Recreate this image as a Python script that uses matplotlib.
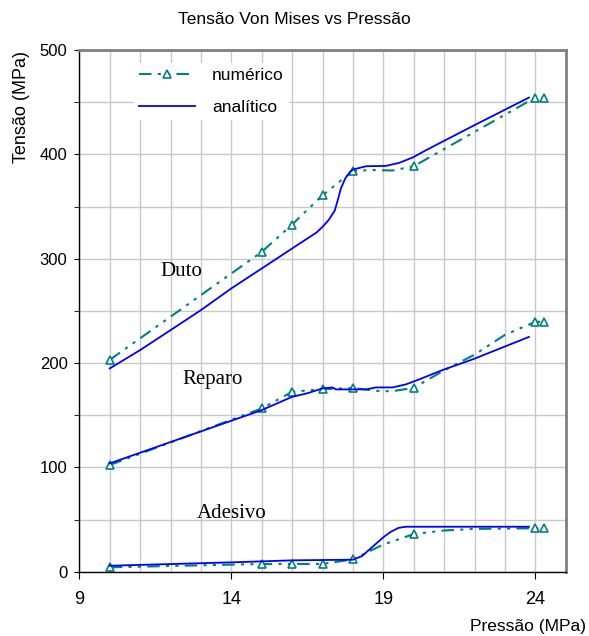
import matplotlib
matplotlib.use("Agg")
import matplotlib.pyplot as plt
from matplotlib.ticker import MultipleLocator

# Duto
duto_num_x = [10, 15, 16, 17, 18, 18.6, 19.3, 20, 24, 24.3]
duto_num_y = [203, 306.5, 332.7, 360.8, 384, 385, 384.5, 388.6, 454.4, 454.4]
duto_num_marks = [0, 1, 2, 3, 4, 7, 8, 9]
duto_ana_x = [10, 11, 12, 13, 14, 15, 16, 16.5, 16.8, 17, 17.2, 17.4, 17.5, 17.6, 17.75, 17.9, 18,
              18.43, 19.08, 19.52, 19.96, 20.4, 22, 23.79]
duto_ana_y = [194.8, 212.4, 231.5, 250.7, 271.5, 290.6, 309.8, 319.3, 325, 330.5, 337, 346, 356, 367, 377, 383, 385.4,
              388.6, 388.9, 391.8, 396.9, 403.9, 428, 454.4]

# Reparo
reparo_num_x = [10, 15, 16, 17, 18, 18.9, 19.3, 20, 21, 22, 23, 24, 24.3]
reparo_num_y = [102.2, 156.5, 172.4, 175, 176, 173, 173, 176.2, 193, 208, 227, 239.5, 239.5]
reparo_num_marks = [0, 1, 2, 3, 4, 7, 11, 12]
reparo_ana_x = [10, 15, 16, 16.5, 17, 17.33, 17.44, 18.43, 18.76, 19.3, 19.74, 20.18, 20.94, 21.93, 23.79]
reparo_ana_y = [103.8, 154.9, 167.6, 171, 175.7, 176.6, 174.7, 174.7, 176.6, 176.6, 179.5, 184.3, 193.2, 203.4, 225]

# Adesivo
ades_num_x = [10, 15, 16, 17, 18, 19, 20, 21, 22, 24, 24.3]
ades_num_y = [4.2, 7.4, 7.4, 7.4, 11.9, 26, 36.1, 39.5, 41, 41.6, 41.6]
ades_num_marks = [0, 1, 2, 3, 4, 6, 9, 10]
ades_ana_x = [10, 12.08, 14.05, 16.02, 18, 18.3, 18.65, 19, 19.25, 19.5, 19.74, 23.79]
ades_ana_y = [5.7, 7.4, 9, 10.9, 11.5, 15, 24, 33, 38.3, 42, 43.1, 43.1]

labels = ["Duto", "Reparo", "Adesivo"]
label_pos = [(11.65, 288), (12.4, 184.6), (12.87, 56.2)]

teal = "#008080"
blue = "#0000FF"
num_style = dict(color=teal, lw=1.5, ls=(0, (6, 3, 1.5, 3, 1.5, 3)), marker="^",
                 markersize=6, markerfacecolor="white", markeredgecolor=teal, markeredgewidth=1.2)
ana_style = dict(color=blue, lw=1.3)

plt.rcParams['font.family'] = ['Liberation Sans', 'DejaVu Sans']

fig = plt.figure(figsize=(5.89, 6.36), dpi=100)
ax = fig.add_axes([0.1347, 0.1011, 0.8258, 0.8203])

ax.plot(duto_num_x, duto_num_y, markevery=duto_num_marks, label="numérico", **num_style)
ax.plot(duto_ana_x, duto_ana_y, label="analítico", **ana_style)
ax.plot(reparo_num_x, reparo_num_y, markevery=reparo_num_marks, **num_style)
ax.plot(reparo_ana_x, reparo_ana_y, **ana_style)
ax.plot(ades_num_x, ades_num_y, markevery=ades_num_marks, **num_style)
ax.plot(ades_ana_x, ades_ana_y, **ana_style)

for lab, (lx, ly) in zip(labels, label_pos):
    ax.text(lx, ly, lab, family="Liberation Serif", fontsize=15, va="center", ha="left")

ax.set_xlim(9, 25)
ax.set_ylim(0, 500)
ax.xaxis.set_minor_locator(MultipleLocator(1))
ax.yaxis.set_major_locator(MultipleLocator(100))
ax.yaxis.set_minor_locator(MultipleLocator(50))
ax.set_xticks([9, 14, 19, 24])
ax.grid(which="both", color="#c8c8c8", lw=1)
ax.set_axisbelow(True)
ax.tick_params(axis="x", which="major", direction="out", length=5, pad=9, labelsize=13)
ax.tick_params(axis="x", which="minor", length=0)
ax.tick_params(axis="y", which="both", direction="out", length=3.5, pad=5, labelsize=12)

for s in ["left", "bottom"]:
    ax.spines[s].set_color("black")
    ax.spines[s].set_linewidth(1)
for s in ["top", "right"]:
    ax.spines[s].set_color("#808080")
    ax.spines[s].set_linewidth(2)

leg = ax.legend(loc="upper left", bbox_to_anchor=(0.112, 0.975), borderaxespad=0, fontsize=12.5,
                handlelength=3.2, handletextpad=1.0, labelspacing=0.95, fancybox=False,
                framealpha=1, facecolor="white", edgecolor="none", borderpad=0.3)

fig.text(0.5, 1 - 20 / 636, "Tensão Von Mises vs Pressão", ha="center", va="center", fontsize=12.5)
fig.text(586 / 589, 1 - 626 / 636, "Pressão (MPa)", ha="right", va="center", fontsize=12.5)
fig.text(22 / 589, 1 - 107 / 636, "Tensão (MPa)", ha="center", va="center", rotation=90, fontsize=13)

fig.savefig("out.png", dpi=100)
